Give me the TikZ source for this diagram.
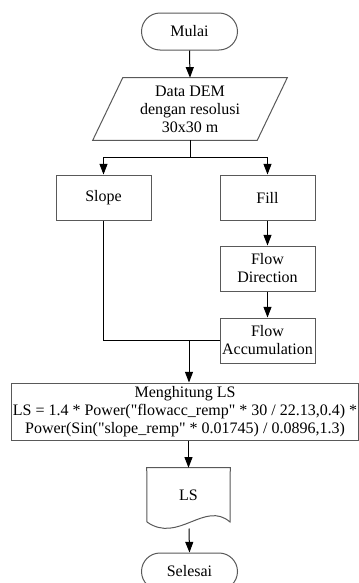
\documentclass[tikz,border=0pt]{standalone}
\usepackage{fontspec}
\setmainfont{Liberation Serif}[Ligatures=TeXOff]
\usetikzlibrary{arrows.meta,calc}

\tikzset{
  x=0.75pt, y=-0.75pt,
  every node/.style={font=\fontsize{12}{13.5}\selectfont, text=black},
  outline/.style={draw=black!65, line width=0.75pt},
  procbox/.style={outline, rectangle, minimum width=71.25pt, minimum height=33.75pt, align=center, inner sep=1pt},
  termbox/.style={outline, rectangle, rounded corners=13.9pt, minimum width=72pt, minimum height=27.75pt},
  plainbox/.style={rectangle, inner sep=0pt, align=center},
  flow/.style={draw=black, line width=0.75pt},
  arrow/.style={flow, -{Triangle[length=8pt,width=6pt]}}
}

\begin{document}
\begin{tikzpicture}
  \useasboundingbox[fill=white] (0,0) rectangle (358,583);

  % start terminator
  \node[termbox] (mulai) at (189.5,31.5) {Mulai};

  % input data (parallelogram drawn around a plain node)
  \node[plainbox, minimum width=123pt, minimum height=46.5pt] (data) at (190,109)
    {Data DEM\\dengan resolusi\\30x30 m};
  \draw[outline] ($(data.north west)+(15,0)$) -- ($(data.north east)+(15,0)$)
    -- ($(data.south east)+(-15,0)$) -- ($(data.south west)+(-15,0)$) -- cycle;

  % processing steps
  \node[procbox] (slope) at (103.5,197.5) {Slope};
  \node[procbox] (fill) at (267.5,197.5) {Fill};
  \node[procbox] (flowdir) at (267.5,268.5) {Flow\\Direction};
  \node[procbox] (flowacc) at (267.5,340.5) {Flow\\Accumulation};

  \node[outline, rectangle, minimum width=258pt, minimum height=42.75pt, inner sep=1pt, align=center]
    (hitung) at (185,411.5)
    {Menghitung LS\\LS = 1.4 * Power("flowacc\_remp" * 30 / 22.13,0.4) *\\Power(Sin("slope\_remp" * 0.01745) / 0.0896,1.3)};

  % output document with wavy bottom
  \node[plainbox, minimum width=62.25pt, minimum height=40.5pt] (ls) at (188.5,495) {LS};
  \draw[outline] (147,522) -- (ls.north west) -- (ls.north east) -- (230,522)
    .. controls (205,500) and (178,544) .. (147,522);
  \coordinate (lsout) at (189,528.5);

  % end terminator
  \node[termbox] (selesai) at (189.5,571.5) {Selesai};

  % junction points
  \coordinate (split) at (190,157);
  \coordinate (merge) at (189,340.5);

  % connectors
  \draw[arrow] (mulai.south) -- (data.north);
  \draw[flow] (data.south) -- (split);
  \draw[arrow] (split) -| (slope.north);
  \draw[arrow] (split) -| (fill.north);
  \draw[arrow] (fill.south) -- (flowdir.north);
  \draw[arrow] (flowdir.south) -- (flowacc.north);
  \draw[flow] (slope.south) |- (flowacc.west);
  \draw[arrow] (merge) -- (merge |- hitung.north);
  \draw[arrow] (ls.north |- hitung.south) -- (ls.north);
  \draw[arrow] (lsout) -- (selesai.north);
\end{tikzpicture}
\end{document}
